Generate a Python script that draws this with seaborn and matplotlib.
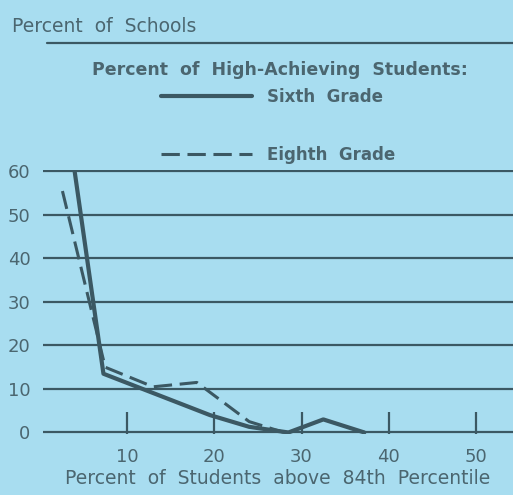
import matplotlib
matplotlib.use("Agg")
import matplotlib.pyplot as plt
import seaborn as sns
import pandas as pd

# values
sixth_x = [4.0, 7.3, 19.5, 24.0, 28.5, 32.5, 37.2]
sixth_y = [60, 13.5, 4.0, 1.3, 0.0, 3.0, 0.0]
eighth_x = [2.6, 7.5, 13.0, 18.0, 21.0, 24.0, 28.0]
eighth_y = [55.5, 15.0, 10.5, 11.5, 7.0, 2.5, 0.0]
x_ticks = [10, 20, 30, 40, 50]
y_ticks = [0, 10, 20, 30, 40, 50, 60]

bg = '#a8ddf0'
ink = '#3b5863'
txt = '#4b6670'

sns.set_style("white", {"axes.facecolor": bg, "figure.facecolor": bg})
plt.rcParams['font.family'] = ['DejaVu Sans']

sixth = pd.DataFrame({'x': sixth_x, 'y': sixth_y})
eighth = pd.DataFrame({'x': eighth_x, 'y': eighth_y})

fig = plt.figure(figsize=(5.13, 4.95), dpi=100)
ax = fig.add_axes([0.0838, 0.1228, 0.9162, 0.5343])

sns.lineplot(data=sixth, x='x', y='y', ax=ax, color=ink, linewidth=3.0,
             label='Sixth  Grade', zorder=3)
sns.lineplot(data=eighth, x='x', y='y', ax=ax, color=ink, linewidth=2.2,
             dashes=(6, 2.5), label='Eighth  Grade', zorder=3)

ax.set_xlim(0.37, 54.24)
ax.set_ylim(-0.4, 60.4)
for v in y_ticks:
    ax.axhline(v, color=ink, linewidth=1.6, zorder=2)
for s in ax.spines.values():
    s.set_visible(False)

ax.set_xticks(x_ticks)
ax.set_yticks(y_ticks)
ax.tick_params(axis='x', direction='in', length=16, width=1.6, color=ink,
               labelsize=13, labelcolor=txt, pad=10, bottom=True)
ax.tick_params(axis='y', length=0, labelsize=13, labelcolor=txt, pad=9)
ax.set_xlabel('Percent  of  Students  above  84th  Percentile', fontsize=13.5,
              color=txt, labelpad=2)
ax.set_ylabel('')

leg = ax.legend(loc='center', bbox_to_anchor=(0.542, 1 - 126 / 495),
                bbox_transform=fig.transFigure, frameon=False,
                prop={'size': 12, 'weight': 'bold'},
                handlelength=5.5, handletextpad=0.9, labelspacing=2.4)
for t in leg.get_texts():
    t.set_color(txt)

fig.text(280 / 513, 1 - 70 / 495, 'Percent  of  High-Achieving  Students:',
         fontsize=12.5, fontweight='bold', color=txt, ha='center', va='center')
fig.text(0.023, 0.947, 'Percent  of  Schools', fontsize=13.5, color=txt,
         ha='left', va='center')
fig.add_artist(plt.Line2D([47 / 513, 1.0], [1 - 43 / 495, 1 - 43 / 495],
                          color=ink, linewidth=1.6))

fig.savefig('out.png', dpi=100, facecolor=bg)
